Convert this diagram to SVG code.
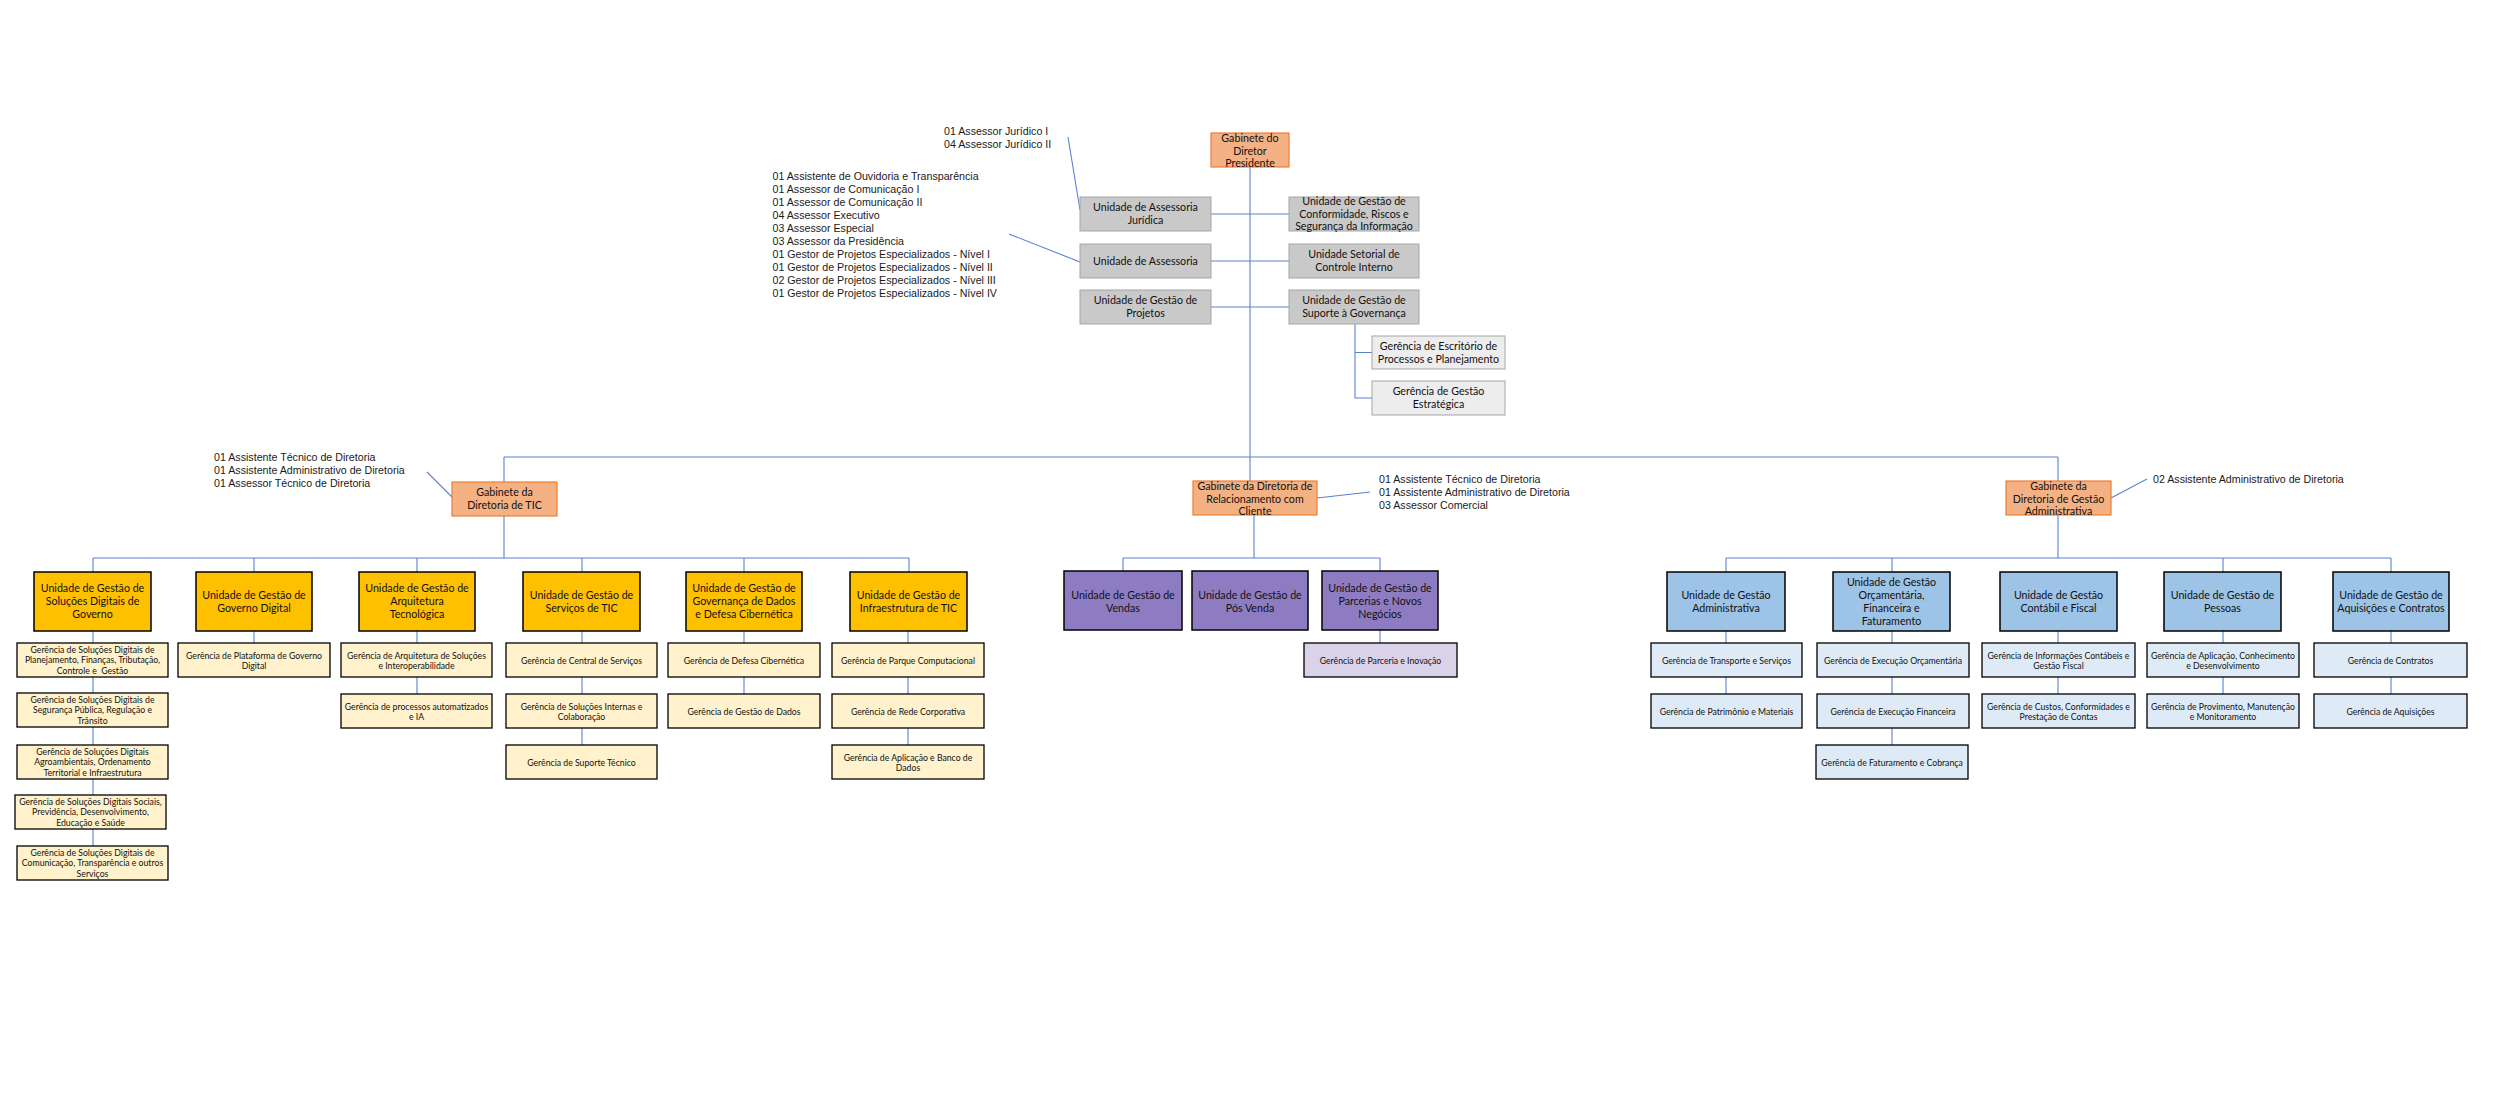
<svg xmlns="http://www.w3.org/2000/svg" width="2500" height="1111" viewBox="0 0 2500 1111">
<style>
.ln{stroke:#5A82CF;stroke-width:1.1;fill:none}
.gab{fill:#F4B183;stroke:#ED7D31;stroke-width:1.2}
.gu{fill:#C9C9C9;stroke:#A5A5A5;stroke-width:1}
.gg{fill:#EDEDED;stroke:#A5A5A5;stroke-width:1}
.yu{fill:#FFC000;stroke:#000;stroke-width:1.5}
.yg{fill:#FFF2CC;stroke:#000;stroke-width:1.3}
.pu{fill:#8E7CC3;stroke:#000;stroke-width:1.5}
.pg{fill:#D9D2E9;stroke:#000;stroke-width:1.3}
.bu{fill:#9DC3E6;stroke:#000;stroke-width:1.5}
.bg{fill:#DEEBF7;stroke:#000;stroke-width:1.3}
.t{font-family:Lato,"Liberation Sans",sans-serif;font-size:10.67px;fill:#111;text-anchor:middle}
.s{font-family:Lato,"Liberation Sans",sans-serif;font-size:8.7px;fill:#111;text-anchor:middle}
.a{font-family:"Liberation Sans",Arial,sans-serif;font-size:10.67px;fill:#1a1a1a}
</style>
<rect width="2500" height="1111" fill="#fff"/>

<g id="connectors">
<path class="ln" d="M1250 167V481M1211 214H1289M1211 261H1289M1211 307H1289"/>
<path class="ln" d="M1355 324V398H1372M1355 352.5H1372"/>
<path class="ln" d="M504 457H2058M504 457V482M2058 457V481"/>
<path class="ln" d="M504 516V558M93 558H909M93 558V572M254 558V572M417 558V572M582 558V572M744 558V572M909 558V572"/>
<path class="ln" d="M93 631V846M254 631V643M417 631V694M582 631V745M744 631V694M908 631V745"/>
<path class="ln" d="M1254 515V558M1123 558H1380M1123 558V571M1380 558V571M1380 630V643"/>
<path class="ln" d="M2058 515V558M1726 558H2391M1726 558V572M1892 558V572M2223 558V572M2391 558V572"/>
<path class="ln" d="M1726 631V694M1892 631V745M2058 631V694M2223 631V694M2391 631V694"/>
<path class="ln" d="M1068 137L1080 210M1009 234L1080 262M427 472L452 497M1317 498L1370 492M2111 498L2147 479"/>
</g>

<g id="annotations">
<text class="a" x="944" y="134.5">01 Assessor Jurídico I</text>
<text class="a" x="944" y="147.5">04 Assessor Jurídico II</text>
<text class="a" x="772.5" y="179.5">01 Assistente de Ouvidoria e Transparência</text>
<text class="a" x="772.5" y="192.5">01 Assessor de Comunicação I</text>
<text class="a" x="772.5" y="205.5">01 Assessor de Comunicação II</text>
<text class="a" x="772.5" y="218.5">04 Assessor Executivo</text>
<text class="a" x="772.5" y="231.5">03 Assessor Especial</text>
<text class="a" x="772.5" y="244.5">03 Assessor da Presidência</text>
<text class="a" x="772.5" y="257.5">01 Gestor de Projetos Especializados - Nível I</text>
<text class="a" x="772.5" y="270.5">01 Gestor de Projetos Especializados - Nível II</text>
<text class="a" x="772.5" y="283.5">02 Gestor de Projetos Especializados - Nível III</text>
<text class="a" x="772.5" y="296.5">01 Gestor de Projetos Especializados - Nível IV</text>
<text class="a" x="214" y="461">01 Assistente Técnico de Diretoria</text>
<text class="a" x="214" y="474">01 Assistente Administrativo de Diretoria</text>
<text class="a" x="214" y="487">01 Assessor Técnico de Diretoria</text>
<text class="a" x="1379" y="483">01 Assistente Técnico de Diretoria</text>
<text class="a" x="1379" y="496">01 Assistente Administrativo de Diretoria</text>
<text class="a" x="1379" y="509">03 Assessor Comercial</text>
<text class="a" x="2153" y="483">02 Assistente Administrativo de Diretoria</text>
</g>

<g id="gab-presidente"><rect class="gab" x="1211" y="133" width="78" height="34"/><text class="t" x="1250" y="142">Gabinete do</text><text class="t" x="1250" y="154.5">Diretor</text><text class="t" x="1250" y="167">Presidente</text></g>
<g id="u-assessoria-juridica"><rect class="gu" x="1080" y="197" width="131" height="34"/><text class="t" x="1145.5" y="211.4">Unidade de Assessoria</text><text class="t" x="1145.5" y="224">Jurídica</text></g>
<g id="u-conformidade"><rect class="gu" x="1289" y="197" width="130" height="34"/><text class="t" x="1354" y="205.2">Unidade de Gestão de</text><text class="t" x="1354" y="217.7">Conformidade, Riscos e</text><text class="t" x="1354" y="230.2">Segurança da Informação</text></g>
<g id="u-assessoria"><rect class="gu" x="1080" y="244" width="131" height="34"/><text class="t" x="1145.5" y="264.7">Unidade de Assessoria</text></g>
<g id="u-controle-interno"><rect class="gu" x="1289" y="244" width="130" height="34"/><text class="t" x="1354" y="258.4">Unidade Setorial de</text><text class="t" x="1354" y="271">Controle Interno</text></g>
<g id="u-projetos"><rect class="gu" x="1080" y="290" width="131" height="34"/><text class="t" x="1145.5" y="304.4">Unidade de Gestão de</text><text class="t" x="1145.5" y="317">Projetos</text></g>
<g id="u-suporte"><rect class="gu" x="1289" y="290" width="130" height="34"/><text class="t" x="1354" y="304.4">Unidade de Gestão de</text><text class="t" x="1354" y="317">Suporte à Governança</text></g>
<g id="g-escritorio"><rect class="gg" x="1372" y="336" width="133" height="33"/><text class="t" x="1438.5" y="349.9">Gerência de Escritório de</text><text class="t" x="1438.5" y="362.5">Processos e Planejamento</text></g>
<g id="g-estrategica"><rect class="gg" x="1372" y="381" width="133" height="34"/><text class="t" x="1438.5" y="395.4">Gerência de Gestão</text><text class="t" x="1438.5" y="408">Estratégica</text></g>

<g id="gab-tic"><rect class="gab" x="452" y="482" width="105" height="34"/><text class="t" x="504.5" y="496.4">Gabinete da</text><text class="t" x="504.5" y="509.4">Diretoria de TIC</text></g>
<g id="u-solucoes-governo"><rect class="yu" x="34" y="572" width="117" height="59"/><text class="t" x="92.5" y="592.4">Unidade de Gestão de</text><text class="t" x="92.5" y="605.4">Soluções Digitais de</text><text class="t" x="92.5" y="618">Governo</text></g>
<g id="u-governo-digital"><rect class="yu" x="196" y="572" width="116" height="59"/><text class="t" x="254" y="599">Unidade de Gestão de</text><text class="t" x="254" y="612">Governo Digital</text></g>
<g id="u-arquitetura"><rect class="yu" x="359" y="572" width="116" height="59"/><text class="t" x="417" y="592.4">Unidade de Gestão de</text><text class="t" x="417" y="605.4">Arquitetura</text><text class="t" x="417" y="618">Tecnológica</text></g>
<g id="u-servicos-tic"><rect class="yu" x="523" y="572" width="117" height="59"/><text class="t" x="581.5" y="599">Unidade de Gestão de</text><text class="t" x="581.5" y="612">Serviços de TIC</text></g>
<g id="u-governanca-dados"><rect class="yu" x="686" y="572" width="116" height="59"/><text class="t" x="744" y="592.4">Unidade de Gestão de</text><text class="t" x="744" y="605.4">Governança de Dados</text><text class="t" x="744" y="618">e Defesa Cibernética</text></g>
<g id="u-infraestrutura"><rect class="yu" x="850" y="572" width="117" height="59"/><text class="t" x="908.5" y="599">Unidade de Gestão de</text><text class="t" x="908.5" y="612">Infraestrutura de TIC</text></g>

<g id="g-planejamento"><rect class="yg" x="17" y="643" width="151" height="34"/><text class="s" x="92.5" y="652.8">Gerência de Soluções Digitais de</text><text class="s" x="92.5" y="663.3">Planejamento, Finanças, Tributação,</text><text class="s" x="92.5" y="673.8" xml:space="preserve">Controle e  Gestão</text></g>
<g id="g-seguranca"><rect class="yg" x="17" y="693" width="151" height="34"/><text class="s" x="92.5" y="702.8">Gerência de Soluções Digitais de</text><text class="s" x="92.5" y="713.3">Segurança Pública, Regulação e</text><text class="s" x="92.5" y="723.8">Trânsito</text></g>
<g id="g-agroambientais"><rect class="yg" x="17" y="745" width="151" height="34"/><text class="s" x="92.5" y="754.8">Gerência de Soluções Digitais</text><text class="s" x="92.5" y="765.3">Agroambientais, Ordenamento</text><text class="s" x="92.5" y="775.8">Territorial e Infraestrutura</text></g>
<g id="g-sociais"><rect class="yg" x="15" y="795" width="151" height="34"/><text class="s" x="90.5" y="804.8">Gerência de Soluções Digitais Sociais,</text><text class="s" x="90.5" y="815.3">Previdência, Desenvolvimento,</text><text class="s" x="90.5" y="825.8">Educação e Saúde</text></g>
<g id="g-comunicacao"><rect class="yg" x="17" y="846" width="151" height="34"/><text class="s" x="92.5" y="855.8">Gerência de Soluções Digitais de</text><text class="s" x="92.5" y="866.3">Comunicação, Transparência e outros</text><text class="s" x="92.5" y="876.8">Serviços</text></g>
<g id="g-plataforma"><rect class="yg" x="178" y="643" width="152" height="34"/><text class="s" x="254" y="658.7">Gerência de Plataforma de Governo</text><text class="s" x="254" y="669.3">Digital</text></g>
<g id="g-arquitetura-solucoes"><rect class="yg" x="341" y="643" width="151" height="34"/><text class="s" x="416.5" y="658.7">Gerência de Arquitetura de Soluções</text><text class="s" x="416.5" y="669.3">e Interoperabilidade</text></g>
<g id="g-processos-ia"><rect class="yg" x="341" y="694" width="151" height="34"/><text class="s" x="416.5" y="709.7">Gerência de processos automatizados</text><text class="s" x="416.5" y="720.3">e IA</text></g>
<g id="g-central-servicos"><rect class="yg" x="506" y="643" width="151" height="34"/><text class="s" x="581.5" y="663.5">Gerência de Central de Serviços</text></g>
<g id="g-solucoes-internas"><rect class="yg" x="506" y="694" width="151" height="34"/><text class="s" x="581.5" y="709.7">Gerência de Soluções Internas e</text><text class="s" x="581.5" y="720.3">Colaboração</text></g>
<g id="g-suporte-tecnico"><rect class="yg" x="506" y="745" width="151" height="34"/><text class="s" x="581.5" y="765.5">Gerência de Suporte Técnico</text></g>
<g id="g-defesa"><rect class="yg" x="668" y="643" width="152" height="34"/><text class="s" x="744" y="663.5">Gerência de Defesa Cibernética</text></g>
<g id="g-gestao-dados"><rect class="yg" x="668" y="694" width="152" height="34"/><text class="s" x="744" y="714.5">Gerência de Gestão de Dados</text></g>
<g id="g-parque"><rect class="yg" x="832" y="643" width="152" height="34"/><text class="s" x="908" y="663.5">Gerência de Parque Computacional</text></g>
<g id="g-rede"><rect class="yg" x="832" y="694" width="152" height="34"/><text class="s" x="908" y="714.5">Gerência de Rede Corporativa</text></g>
<g id="g-aplicacao-banco"><rect class="yg" x="832" y="745" width="152" height="34"/><text class="s" x="908" y="760.7">Gerência de Aplicação e Banco de</text><text class="s" x="908" y="771.3">Dados</text></g>

<g id="gab-relacionamento"><rect class="gab" x="1193" y="481" width="124" height="34"/><text class="t" x="1255" y="489.7">Gabinete da Diretoria de</text><text class="t" x="1255" y="502.7">Relacionamento com</text><text class="t" x="1255" y="515.4">Cliente</text></g>
<g id="u-vendas"><rect class="pu" x="1064" y="571" width="118" height="59"/><text class="t" x="1123" y="599.4">Unidade de Gestão de</text><text class="t" x="1123" y="612">Vendas</text></g>
<g id="u-pos-venda"><rect class="pu" x="1192" y="571" width="116" height="59"/><text class="t" x="1250" y="599.4">Unidade de Gestão de</text><text class="t" x="1250" y="612">Pós Venda</text></g>
<g id="u-parcerias"><rect class="pu" x="1322" y="571" width="116" height="59"/><text class="t" x="1380" y="592.4">Unidade de Gestão de</text><text class="t" x="1380" y="605.4">Parcerias e Novos</text><text class="t" x="1380" y="618">Negócios</text></g>
<g id="g-parceria-inovacao"><rect class="pg" x="1304" y="643" width="153" height="34"/><text class="s" x="1380.5" y="663.5">Gerência de Parceria e Inovação</text></g>

<g id="gab-gestao-administrativa"><rect class="gab" x="2006" y="481" width="105" height="34"/><text class="t" x="2058.5" y="490">Gabinete da</text><text class="t" x="2058.5" y="503">Diretoria de Gestão</text><text class="t" x="2058.5" y="515.4">Administrativa</text></g>
<g id="u-administrativa"><rect class="bu" x="1667" y="572" width="118" height="59"/><text class="t" x="1726" y="599">Unidade de Gestão</text><text class="t" x="1726" y="612">Administrativa</text></g>
<g id="u-orcamentaria"><rect class="bu" x="1833" y="572" width="117" height="59"/><text class="t" x="1891.5" y="586.4">Unidade de Gestão</text><text class="t" x="1891.5" y="599.4">Orçamentária,</text><text class="t" x="1891.5" y="612.4">Financeira e</text><text class="t" x="1891.5" y="625">Faturamento</text></g>
<g id="u-contabil"><rect class="bu" x="2000" y="572" width="117" height="59"/><text class="t" x="2058.5" y="599">Unidade de Gestão</text><text class="t" x="2058.5" y="612">Contábil e Fiscal</text></g>
<g id="u-pessoas"><rect class="bu" x="2164" y="572" width="117" height="59"/><text class="t" x="2222.5" y="599">Unidade de Gestão de</text><text class="t" x="2222.5" y="612">Pessoas</text></g>
<g id="u-aquisicoes-contratos"><rect class="bu" x="2333" y="572" width="116" height="59"/><text class="t" x="2391" y="599">Unidade de Gestão de</text><text class="t" x="2391" y="612">Aquisições e Contratos</text></g>

<g id="g-transporte"><rect class="bg" x="1651" y="643" width="151" height="34"/><text class="s" x="1726.5" y="663.5">Gerência de Transporte e Serviços</text></g>
<g id="g-patrimonio"><rect class="bg" x="1651" y="694" width="151" height="34"/><text class="s" x="1726.5" y="714.5">Gerência de Patrimônio e Materiais</text></g>
<g id="g-exec-orcamentaria"><rect class="bg" x="1817" y="643" width="152" height="34"/><text class="s" x="1893" y="663.5">Gerência de Execução Orçamentária</text></g>
<g id="g-exec-financeira"><rect class="bg" x="1817" y="694" width="152" height="34"/><text class="s" x="1893" y="714.5">Gerência de Execução Financeira</text></g>
<g id="g-faturamento"><rect class="bg" x="1816" y="745" width="152" height="34"/><text class="s" x="1892" y="765.5">Gerência de Faturamento e Cobrança</text></g>
<g id="g-info-contabeis"><rect class="bg" x="1982" y="643" width="153" height="34"/><text class="s" x="2058.5" y="658.7">Gerência de Informações Contábeis e</text><text class="s" x="2058.5" y="669.3">Gestão Fiscal</text></g>
<g id="g-custos"><rect class="bg" x="1982" y="694" width="153" height="34"/><text class="s" x="2058.5" y="709.7">Gerência de Custos, Conformidades e</text><text class="s" x="2058.5" y="720.3">Prestação de Contas</text></g>
<g id="g-aplicacao-conhecimento"><rect class="bg" x="2147" y="643" width="152" height="34"/><text class="s" x="2223" y="658.7">Gerência de Aplicação, Conhecimento</text><text class="s" x="2223" y="669.3">e Desenvolvimento</text></g>
<g id="g-provimento"><rect class="bg" x="2147" y="694" width="152" height="34"/><text class="s" x="2223" y="709.7">Gerência de Provimento, Manutenção</text><text class="s" x="2223" y="720.3">e Monitoramento</text></g>
<g id="g-contratos"><rect class="bg" x="2314" y="643" width="153" height="34"/><text class="s" x="2390.5" y="663.5">Gerência de Contratos</text></g>
<g id="g-aquisicoes"><rect class="bg" x="2314" y="694" width="153" height="34"/><text class="s" x="2390.5" y="714.5">Gerência de Aquisições</text></g>
</svg>
